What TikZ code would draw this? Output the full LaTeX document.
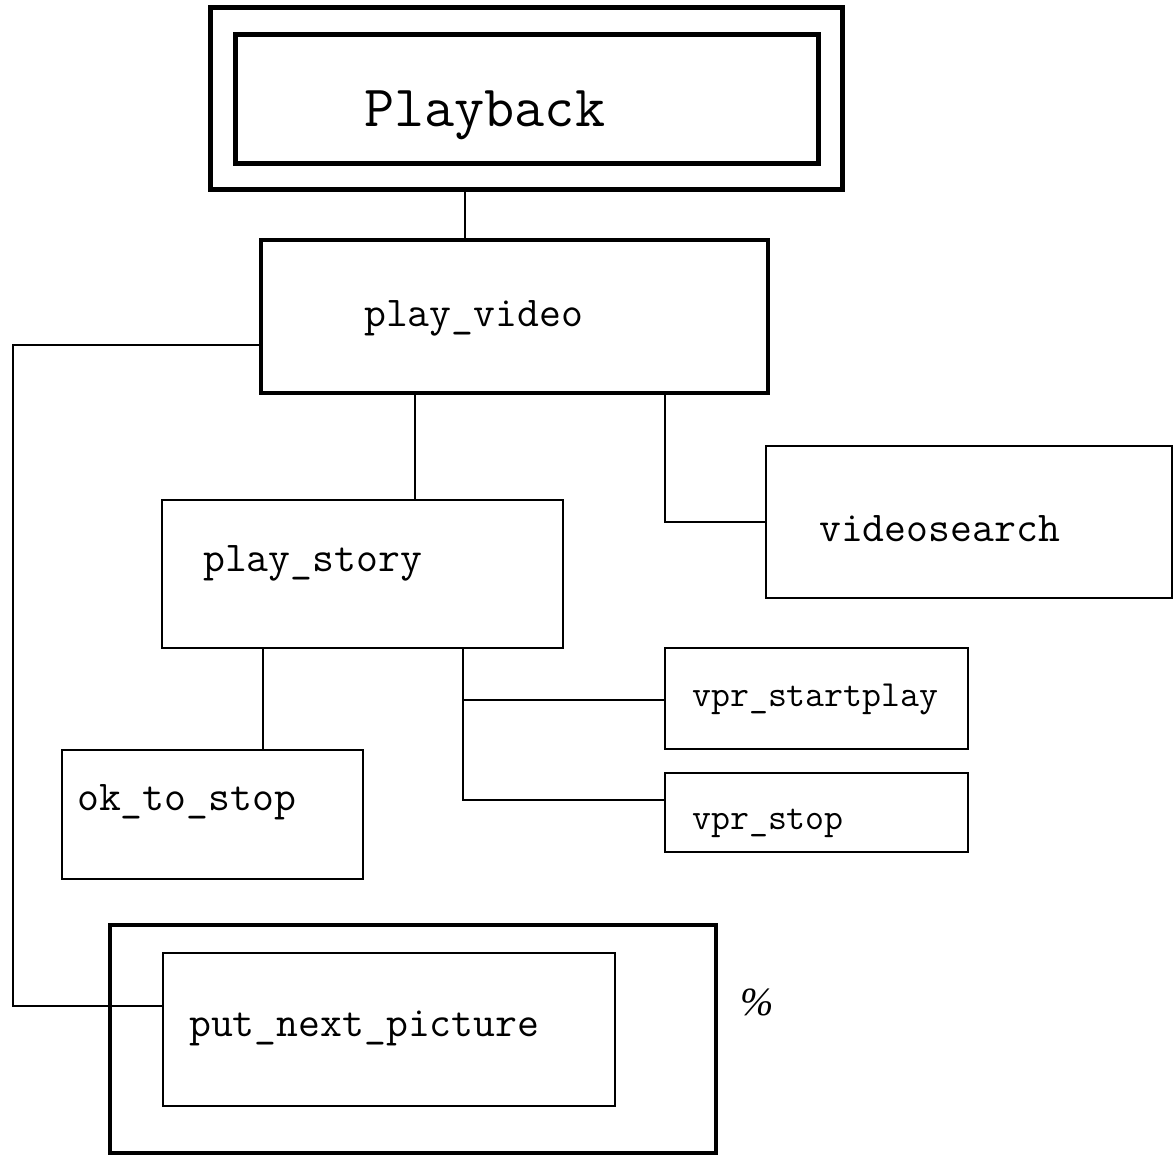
\documentclass[tikz,border=0pt]{standalone}
\usepackage{fontspec}
\setmainfont{Liberation Serif}
\begin{document}
\begin{tikzpicture}[x=1pt,y=-1pt,
  heavybox/.style={draw,line width=5pt,inner sep=0pt},
  midbox/.style={draw,line width=4pt,inner sep=0pt},
  thinbox/.style={draw,line width=2.6pt,inner sep=0pt},
  lbl/.style={anchor=base west,inner sep=0pt,font=\ttfamily\fontsize{42.5}{45}\selectfont},
  slbl/.style={anchor=base west,inner sep=0pt,font=\ttfamily\fontsize{36.8}{40}\selectfont},
  conn/.style={line width=2pt}]
\useasboundingbox (0,0) rectangle (1174,1156);
% boxes
\node[heavybox,minimum width=632pt,minimum height=181pt] (pbo) at (526,98.5) {};
\node[heavybox,minimum width=583pt,minimum height=128pt] (pbi) at (526.5,99) {};
\node[midbox,minimum width=507pt,minimum height=153pt] (pv) at (514.5,316.5) {};
\node[thinbox,minimum width=401pt,minimum height=148pt] (ps) at (362.5,574) {};
\node[thinbox,minimum width=406pt,minimum height=152pt] (vs) at (969,522) {};
\node[thinbox,minimum width=303pt,minimum height=101pt] (vsp) at (816.5,698.5) {};
\node[thinbox,minimum width=303pt,minimum height=79pt] (vst) at (816.5,812.5) {};
\node[thinbox,minimum width=301pt,minimum height=129pt] (ok) at (212.5,814.5) {};
\node[draw,line width=3.5pt,inner sep=0pt,minimum width=606pt,minimum height=228pt] (npo) at (413,1039) {};
\node[thinbox,minimum width=452pt,minimum height=153pt] (npi) at (389,1029.5) {};
% texts
\node[anchor=base west,inner sep=0pt,font=\ttfamily\fontsize{58.5}{62}\selectfont] (tpb) at (364,126) {Playback};
\node[lbl] (tpv) at (364,326) {play\_video};
\node[lbl] (tps) at (203,571) {play\_story};
\node[lbl] (tvs) at (819,541) {videosearch};
\node[slbl] (tvsp) at (692,706) {vpr\_startplay};
\node[slbl] (tvst) at (692,829) {vpr\_stop};
\node[lbl] (tok) at (77,810) {ok\_to\_stop};
\node[lbl] (tnp) at (189,1036) {put\_next\_picture};
\node[anchor=center,inner sep=0pt,font=\itshape\fontsize{40}{42}\selectfont] (pct) at (757,1002) {\%};
% connectors
\draw[conn] (pbo.south -| 465,0) -- (pv.north -| 465,0);
\draw[conn] (pv.south -| 415,0) -- (ps.north -| 415,0);
\draw[conn] (pv.south -| 665,0) |- (vs.west);
\draw[conn] (pv.west |- 0,345) -| (13,700) |- (npi.west |- 0,1006);
\draw[conn] (ps.south -| 263,0) -- (ok.north -| 263,0);
\draw[conn] (ps.south -| 463,0) |- (vst.west |- 0,800);
\draw[conn] (463,700) -- (vsp.west |- 0,700);
\end{tikzpicture}
\end{document}
